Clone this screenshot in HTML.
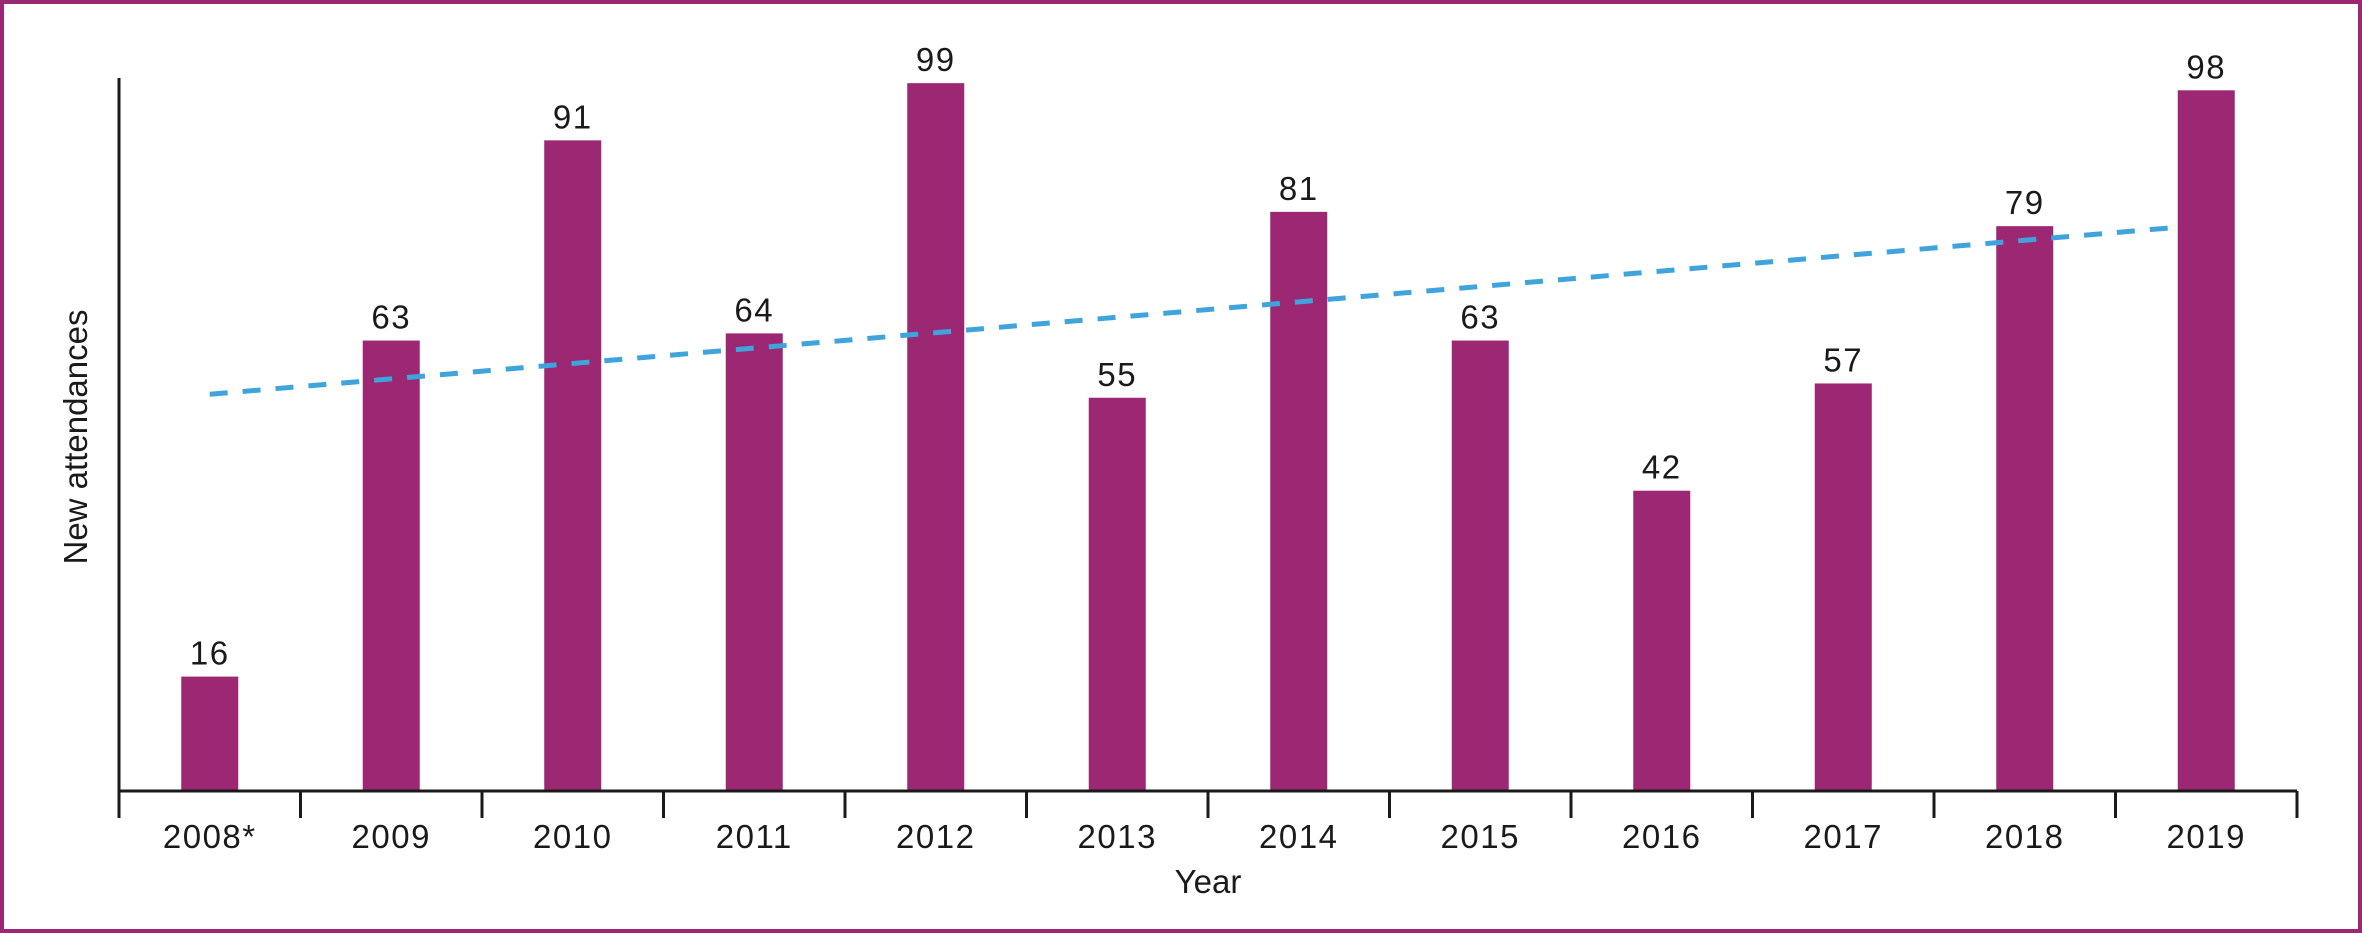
<!DOCTYPE html>
<html><head><meta charset="utf-8"><style>
html,body{margin:0;padding:0;background:#fff}
svg{display:block}
text{font-family:"Liberation Sans",sans-serif;fill:#1a1a1a}
</style></head><body>
<svg id="chart" width="2362" height="933" viewBox="0 0 2362 933" xmlns="http://www.w3.org/2000/svg">
<rect x="2" y="2" width="2358" height="929" fill="#fff" stroke="#9c2772" stroke-width="4"/>
<g id="plot"></g>
<text x="1208" y="893" font-size="33" text-anchor="middle">Year</text>
<text transform="translate(87,437) rotate(-90)" font-size="33" text-anchor="middle">New attendances</text>
</svg>
<script>
const categories = ["2008*","2009","2010","2011","2012","2013","2014","2015","2016","2017","2018","2019"];
const values = [16,63,91,64,99,55,81,63,42,57,79,98];
const valueLabels = ["16","63","91","64","99","55","81","63","42","57","79","98"];

const NS = "http://www.w3.org/2000/svg";
const g = document.getElementById("plot");
const x0 = 119, x1 = 2297, base = 791, pxPerUnit = 7.15;
const band = (x1 - x0) / categories.length;
const barW = 57;
function xCenter(i){ return x0 + band * (i + 0.5); }
function yScale(v){ return base - v * pxPerUnit; }
function mk(tag, attrs){ const e = document.createElementNS(NS, tag); for (const k in attrs) e.setAttribute(k, attrs[k]); g.appendChild(e); return e; }

// bars and labels
categories.forEach((c, i) => {
  const v = values[i];
  const r = mk("rect", {x: xCenter(i) - barW/2, y: yScale(v), width: barW, height: base - yScale(v), fill: "#9c2772"});
  
  
  const t = mk("text", {x: xCenter(i), y: yScale(v) - 12, "font-size": 33, "text-anchor": "middle", "letter-spacing": "1.5"});
  t.textContent = valueLabels[i];
  
  
  const xl = mk("text", {x: xCenter(i), y: 848, "font-size": 33, "text-anchor": "middle", "letter-spacing": "1.5"});
  xl.textContent = c;
  
  
});

// trendline (least squares)
const n = values.length;
const mx = (n - 1) / 2;
const my = values.reduce((a, b) => a + b, 0) / n;
let sxy = 0, sxx = 0;
values.forEach((v, i) => { sxy += (i - mx) * (v - my); sxx += (i - mx) * (i - mx); });
const slope = sxy / sxx;
const tr = mk("line", {x1: xCenter(0), y1: yScale(my - slope * mx), x2: xCenter(n - 1) - 30, y2: yScale(my + slope * (mx - 30 / band)), stroke: "#3fa4dc", "stroke-width": 5, "stroke-dasharray": "18 15"});



// axes
const ya = mk("line", {x1: x0, y1: 78, x2: x0, y2: 818, stroke: "#1a1a1a", "stroke-width": 3});


const xa = mk("line", {x1: x0, y1: base, x2: x1, y2: base, stroke: "#1a1a1a", "stroke-width": 3});


for (let i = 0; i <= categories.length; i++) {
  const tk = mk("line", {x1: x0 + band * i, y1: base, x2: x0 + band * i, y2: 818, stroke: "#1a1a1a", "stroke-width": 3});
  
  
}
</script>
</body></html>
